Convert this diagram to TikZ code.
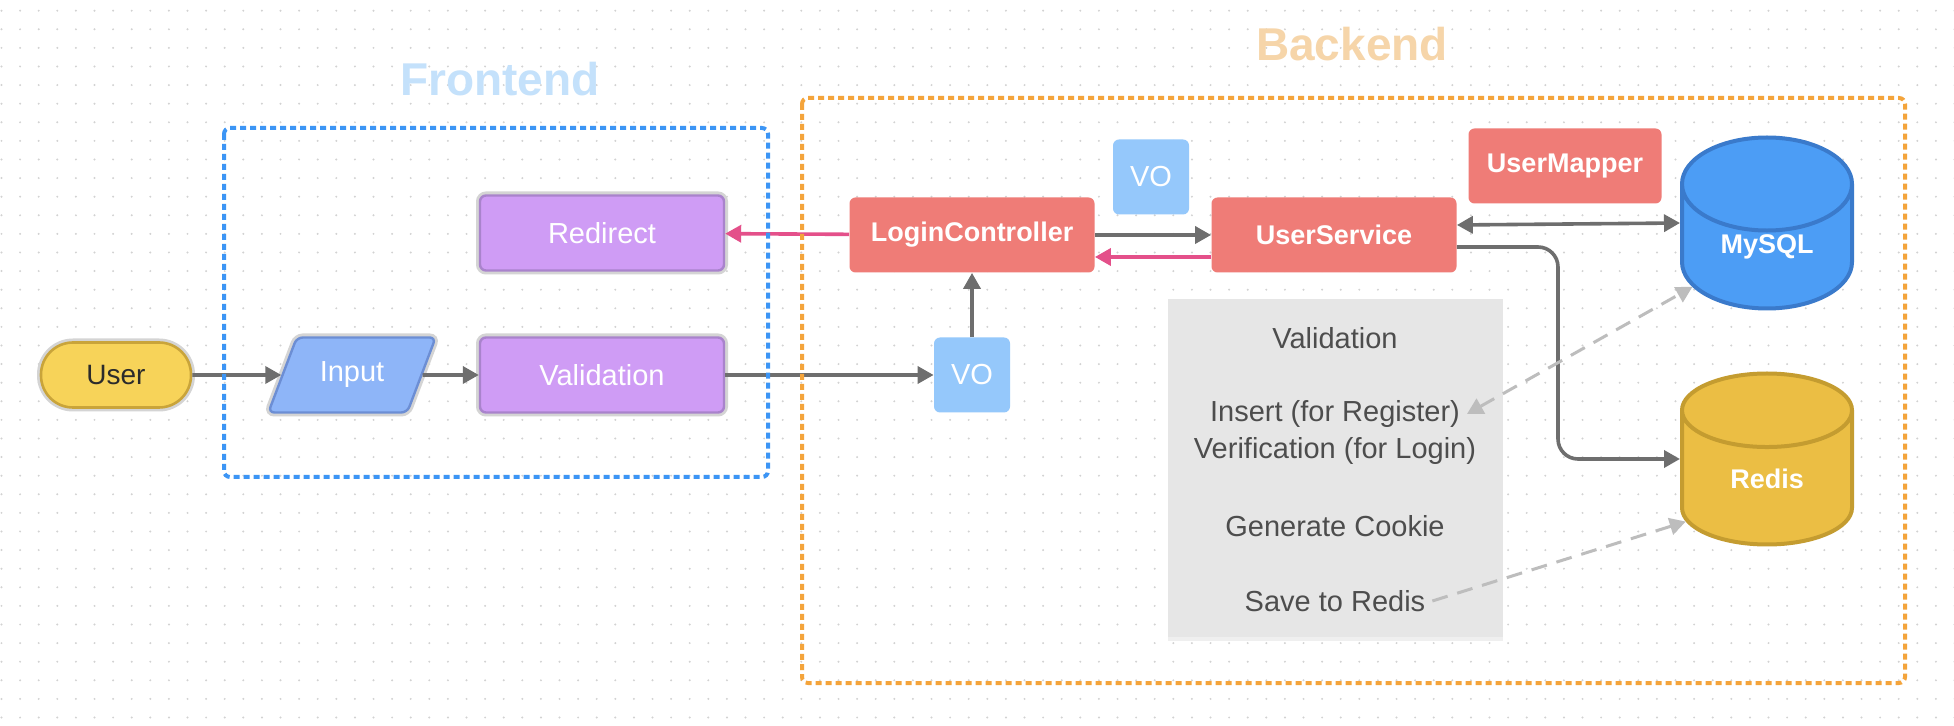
\documentclass[tikz,border=0pt]{standalone}
\usepackage{fontspec}
\setmainfont{Liberation Sans}
\usepackage{tikz}
\usetikzlibrary{
  arrows.meta,
  positioning,
  shapes.geometric,
  shadows,
}
\definecolor{lfSun}      {HTML}{F7D359}
\definecolor{lfSunLine}  {HTML}{C9A43A}
\definecolor{lfCorn}     {HTML}{8EB5F8}
\definecolor{lfCornLine} {HTML}{6C8ED4}
\definecolor{lfLilac}    {HTML}{CF9CF5}
\definecolor{lfLilacLine}{HTML}{A983CC}
\definecolor{lfHalo}     {HTML}{D4D4D4}
\definecolor{lfCoral}    {HTML}{EF7C77}
\definecolor{lfVo}       {HTML}{95C8FB}
\definecolor{lfSky}      {HTML}{4C9DF5}
\definecolor{lfSkyLine}  {HTML}{3A7ACB}
\definecolor{lfGold}     {HTML}{EBBE44}
\definecolor{lfGoldLine} {HTML}{C49C30}
\definecolor{lfNote}     {HTML}{E6E6E6}
\definecolor{lfNoteInk}  {HTML}{4D4D4D}
\definecolor{lfInk}      {HTML}{2B2B2B}
\definecolor{lfFront}    {HTML}{3C95F5}
\definecolor{lfFrontTtl} {HTML}{C4E1FB}
\definecolor{lfBack}     {HTML}{F4A43B}
\definecolor{lfBackTtl}  {HTML}{F6D5A9}
\definecolor{lfArrow}    {HTML}{6E6E6E}
\definecolor{lfPink}     {HTML}{E4508A}
\definecolor{lfDash}     {HTML}{BDBDBD}
\definecolor{lfDot}      {HTML}{D2D2D2}

\begin{document}
\begin{tikzpicture}[
  x=0.5pt, y=-0.5pt,
  >={Triangle[length=8pt,width=8.5pt]},
  actor/.style  ={rectangle, rounded corners=16pt, fill=lfSun, draw=lfSunLine,
                  line width=1.3pt, preaction={draw=lfHalo, line width=4pt},
                  minimum width=75pt, minimum height=32.5pt,
                  font=\fontsize{14}{17}\selectfont, text=lfInk},
  io/.style     ={trapezium, trapezium left angle=63, trapezium right angle=117,
                  trapezium stretches=true, rounded corners=3pt, fill=lfCorn,
                  draw=lfCornLine, line width=1.2pt,
                  preaction={draw=lfHalo, line width=4pt},
                  minimum width=84pt, minimum height=37.5pt,
                  font=\fontsize{14.5}{17}\selectfont, text=white},
  proc/.style   ={rectangle, rounded corners=3pt, fill=lfLilac, draw=lfLilacLine,
                  line width=1.2pt, preaction={draw=lfHalo, line width=4pt},
                  minimum width=122pt, minimum height=37.5pt,
                  font=\fontsize{14.5}{17}\selectfont, text=white},
  ctrl/.style   ={rectangle, rounded corners=3pt, fill=lfCoral,
                  minimum width=122.5pt, minimum height=37.5pt,
                  font=\fontsize{13.5}{16}\selectfont\bfseries, text=white},
  vobox/.style  ={rectangle, rounded corners=3pt, fill=lfVo,
                  minimum width=38pt, minimum height=37.5pt,
                  font=\fontsize{14.5}{17}\selectfont, text=white},
  db/.style     ={cylinder, shape border rotate=90, shape aspect=1.0,
                  cylinder uses custom fill, line width=2pt, inner sep=0pt,
                  minimum width=85pt, minimum height=85.5pt, anchor=shape center,
                  font=\fontsize{13.5}{16}\selectfont\bfseries, text=white},
  notebox/.style={rectangle, fill=lfNote, minimum width=167.5pt,
                  minimum height=168.5pt,
                  drop shadow={shadow xshift=0pt, shadow yshift=-2pt, opacity=0.12}},
  note/.style   ={font=\fontsize{14.5}{17}\selectfont, text=lfNoteInk},
  region/.style ={line width=2pt, dash pattern=on 3pt off 2pt, rounded corners=3pt},
  ttl/.style    ={font=\fontsize{23}{27}\selectfont\bfseries},
  flow/.style   ={->, line width=1.8pt, color=lfArrow},
  back/.style   ={->, line width=1.8pt, color=lfPink},
  dflow/.style  ={->, line width=1.5pt, color=lfDash, dash pattern=on 8pt off 5pt},
]
  % canvas with dot grid
  \fill[white] (0,0) rectangle (1954,726);
  \useasboundingbox (0,0) rectangle (1954,726);
  \foreach \gx in {0,...,105}
    \foreach \gy in {0,...,38}
      \fill[lfDot] (1.5+18.6*\gx, 10.7+18.6*\gy) circle (0.55pt);

  % titles
  \node[ttl, text=lfFrontTtl] (fetitle) at (500,79) {Frontend};
  \node[ttl, text=lfBackTtl]  (betitle) at (1352,44) {Backend};

  % frontend
  \node[actor] (user)     at (116,375) {User};
  \node[io]    (input)    at (352,375) {Input};
  \node[proc]  (valid)    at (602,375) {Validation};
  \node[proc]  (redirect) at (602,233) {Redirect};

  % backend
  \node[vobox] (vo1)     at (972,375)  {VO};
  \node[ctrl]  (login)   at (972,235)  {LoginController};
  \node[vobox] (vo2)     at (1151,177) {VO};
  \node[ctrl]  (service) at (1334,235) {UserService};
  \node[ctrl, minimum width=96.5pt] (mapper) at (1565,166) {UserMapper};
  \node[db, draw=lfSkyLine, cylinder body fill=lfSky, cylinder end fill=lfSky]
        (mysql) at (1767,223) {MySQL};
  \node[db, draw=lfGoldLine, cylinder body fill=lfGold, cylinder end fill=lfGold]
        (redis) at (1767,459) {Redis};

  % service steps
  \node[notebox] (steps) at (1335,468) {};
  \node[note] (n1) at (1335,338) {Validation};
  \node[note] (n2) at (1335,414) {Insert (for Register)};
  \node[note] (n3) at (1335,451) {Verification (for Login)};
  \node[note] (n4) at (1335,526) {Generate Cookie};
  \node[note] (n5) at (1335,601) {Save to Redis};

  % connectors
  \draw[flow] (user) -- (input);
  \draw[flow] (input) -- (valid);
  \draw[flow] (valid) -- (vo1);
  \draw[flow] (vo1) -- (login);
  \draw[flow] (login) -- (service);
  \draw[back] ([yshift=-11pt]service.west) -- ([yshift=-11pt]login.east);
  \draw[back] (login) -- (redirect);
  \draw[flow, <->] ([yshift=5pt]service.east) -- (mysql.west |- mysql.shape center);
  \draw[flow, rounded corners=10pt] ([yshift=-6pt]service.east)
        -| ([xshift=-61pt]redis.west |- redis.shape center)
        -- (redis.west |- redis.shape center);
  \draw[dflow, <->] (n2.east) -- (mysql.208);
  \draw[dflow] (n5.east) -- (redis.208);

  % regions on top
  \draw[region, draw=lfFront] (224,128) rectangle (768,477);
  \draw[region, draw=lfBack]  (802,98)  rectangle (1905,683);
\end{tikzpicture}
\end{document}
